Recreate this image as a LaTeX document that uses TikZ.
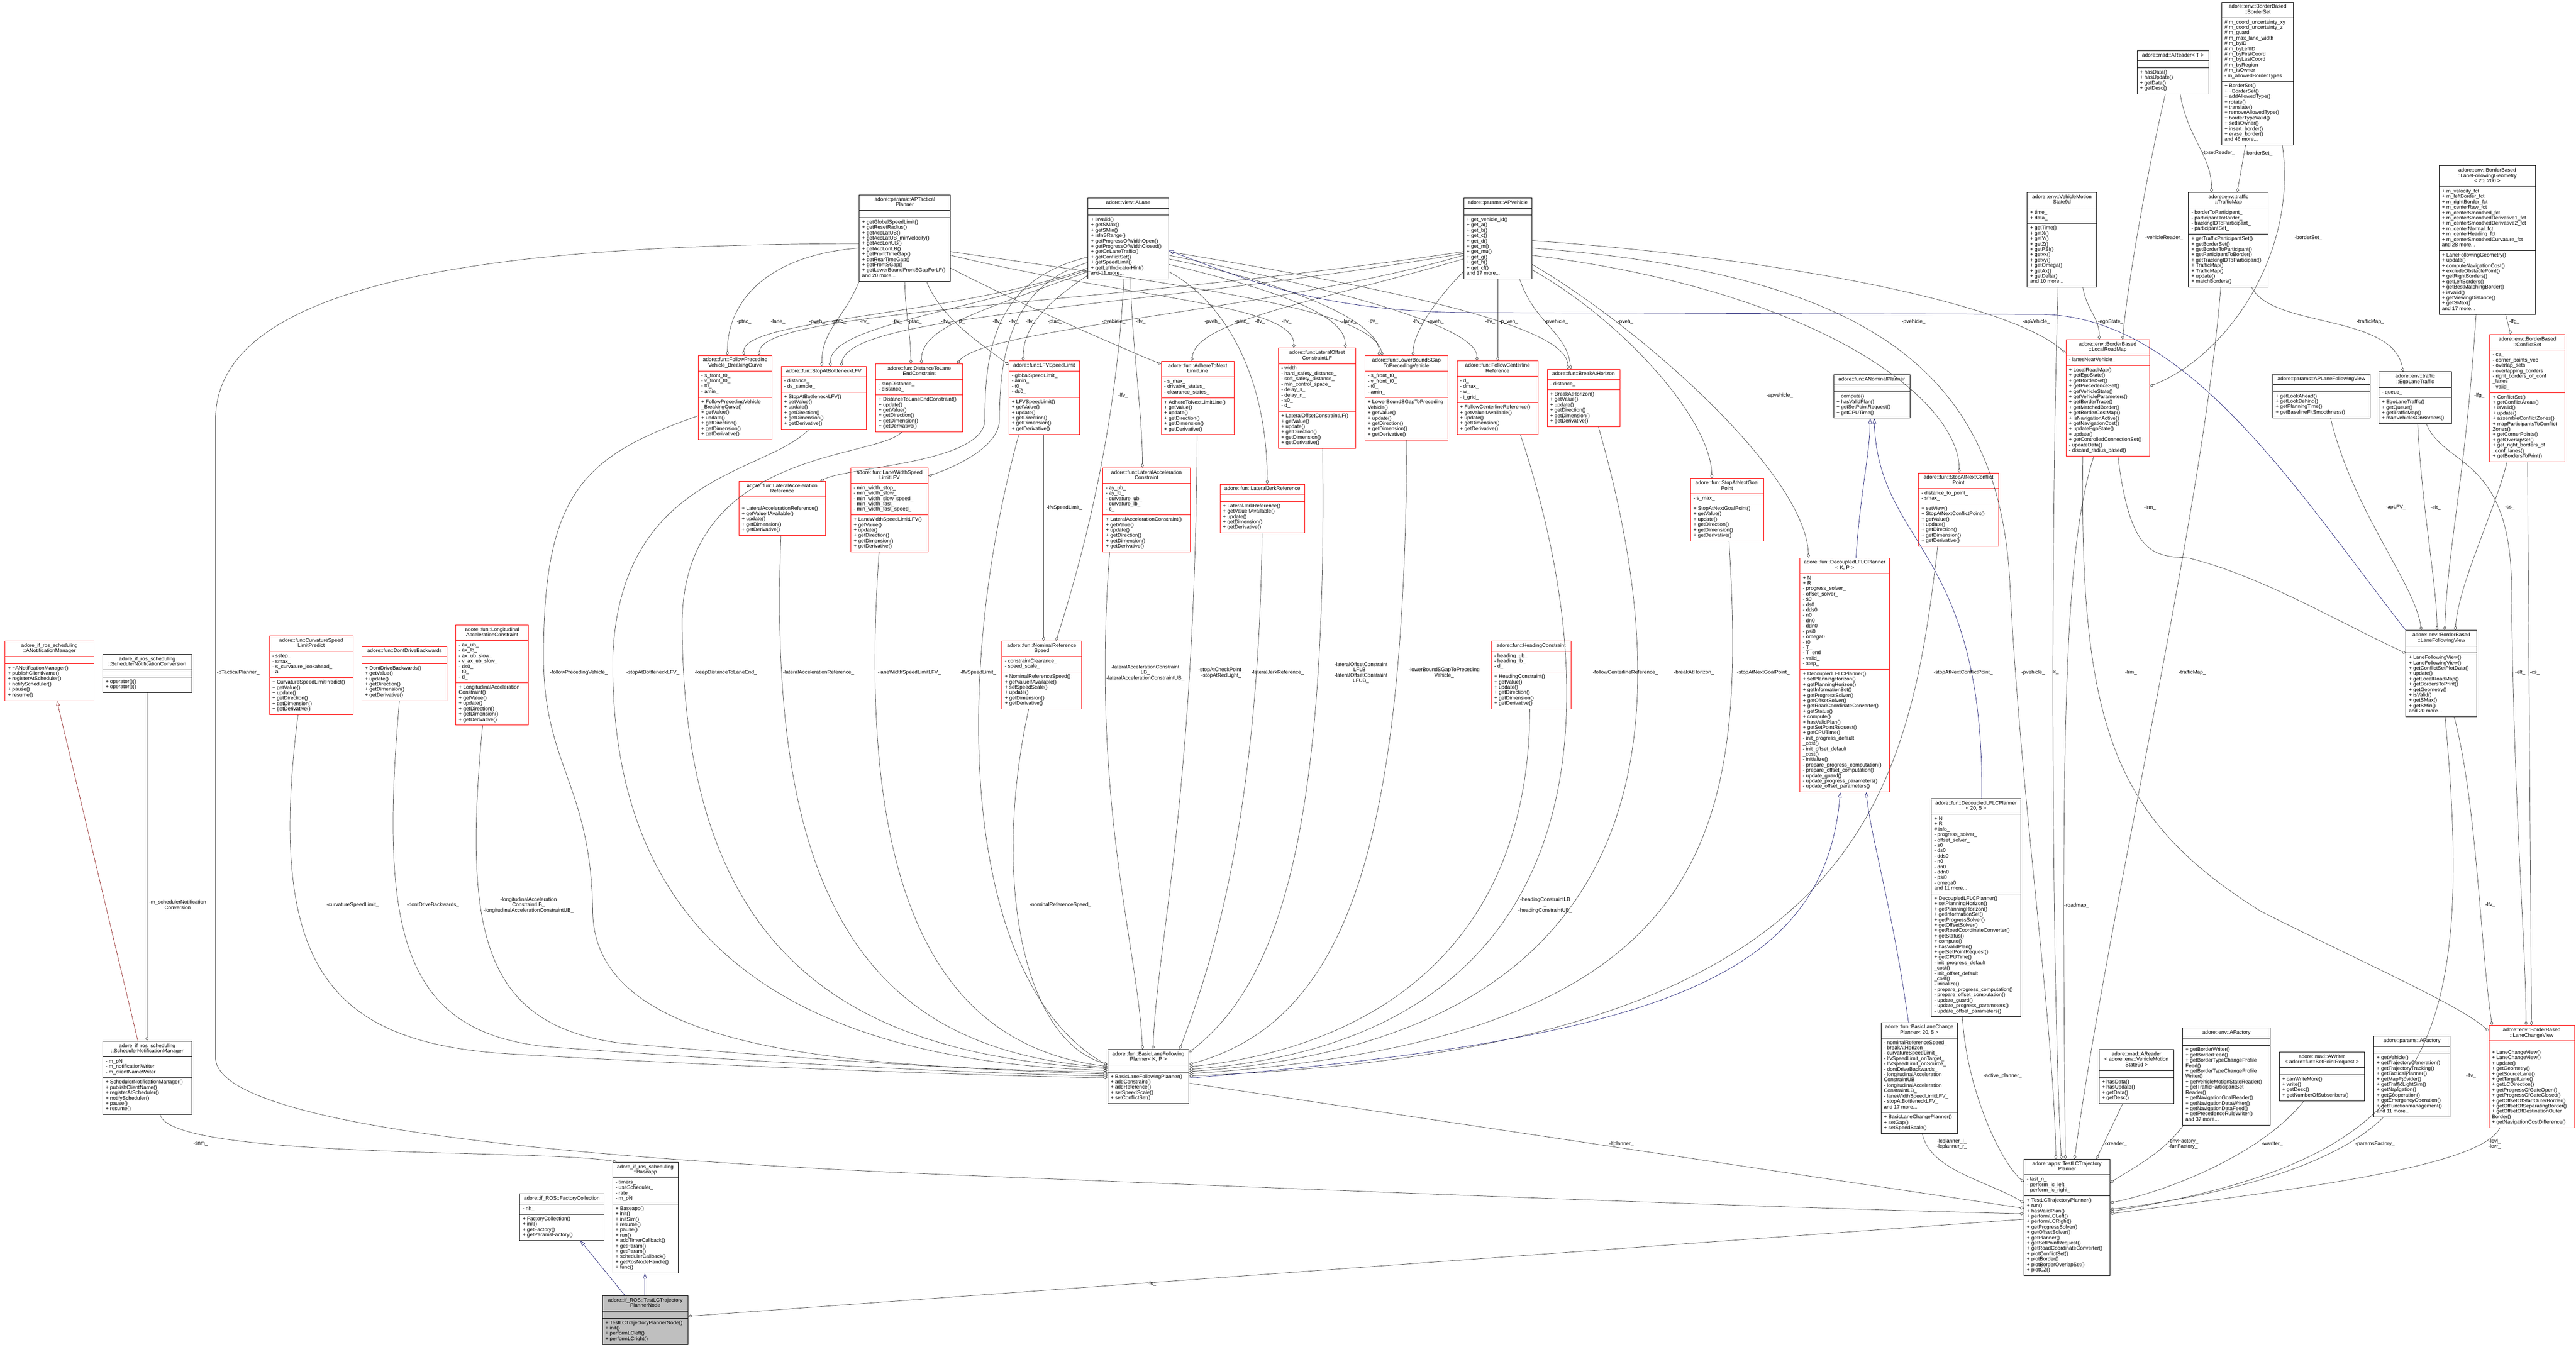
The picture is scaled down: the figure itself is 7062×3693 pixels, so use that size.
\documentclass[tikz,border=0pt]{standalone}
\usepackage{fontspec}
\newfontfamily\dxfont{Liberation Sans}
\usetikzlibrary{shapes.multipart,arrows.meta}
\definecolor{edgegray}{HTML}{404040}
\definecolor{inhblue}{HTML}{191970}
\definecolor{privred}{HTML}{8B1A1A}
\definecolor{nodegray}{HTML}{BFBFBF}
\newcommand{\ttl}[1]{\begin{tabular}{@{}c@{}}#1\end{tabular}}
\newcommand{\lst}[1]{\begin{tabular}{@{}l@{}}#1\end{tabular}}
\newcommand{\emp}{\rule{0pt}{3pt}}
\tikzset{
  cls/.style={rectangle split, rectangle split parts=3, draw=black, line width=0.6pt, fill=white,
    anchor=north west, inner xsep=4pt, inner ysep=3pt,
    font=\dxfont\fontsize{7.1}{7.35}\selectfont,
    rectangle split part align={center,left,left}},
  redcls/.style={cls, draw=red},
  boxw/.style={minimum width=#1*0.5pt},
  uses/.style={draw=edgegray, line width=0.5pt, -{Diamond[open,length=6pt,width=4pt]}},
  inherit/.style={draw=inhblue, line width=0.5pt, -{Triangle[open,length=7pt,width=5pt]}},
  privinherit/.style={draw=privred, line width=0.5pt, -{Triangle[open,length=7pt,width=5pt]}},
  lbl/.style={font=\dxfont\fontsize{7.1}{7.35}\selectfont, inner sep=0pt, align=center},
}
\begin{document}
\begin{tikzpicture}[x=0.5pt,y=-0.5pt]
\path[use as bounding box, fill=white] (0,0) rectangle (7062,3693);

% parameter and view classes at the top
\node[cls, boxw=250] (aptac) at (2355,534) {\ttl{adore::params::APTactical\\Planner}\nodepart{two}\emp\nodepart{three}\lst{+ getGlobalSpeedLimit()\\+ getResetRadius()\\+ getAccLatUB()\\+ getAccLatUB\_minVelocity()\\+ getAccLonUB()\\+ getAccLonLB()\\+ getFrontTimeGap()\\+ getRearTimeGap()\\+ getFrontSGap()\\+ getLowerBoundFrontSGapForLF()\\and 20 more...}};
\node[cls, boxw=221] (alane) at (2982,542) {\ttl{adore::view::ALane}\nodepart{two}\emp\nodepart{three}\lst{+ isValid()\\+ getSMax()\\+ getSMin()\\+ isInSRange()\\+ getProgressOfWidthOpen()\\+ getProgressOfWidthClosed()\\+ getOnLaneTraffic()\\+ getConflictSet()\\+ getSpeedLimit()\\+ getLeftIndicatorHint()\\and 11 more...}};
\node[cls, boxw=187] (apv) at (4012,542) {\ttl{adore::params::APVehicle}\nodepart{two}\emp\nodepart{three}\lst{+ get\_vehicle\_id()\\+ get\_a()\\+ get\_b()\\+ get\_c()\\+ get\_d()\\+ get\_m()\\+ get\_mu()\\+ get\_g()\\+ get\_h()\\+ get\_cf()\\and 17 more...}};
\node[cls, boxw=197] (areader) at (5858,138) {\ttl{adore::mad::AReader< T >}\nodepart{two}\emp\nodepart{three}\lst{+ hasData()\\+ hasUpdate()\\+ getData()\\+ getDesc()}};
\node[cls, boxw=197] (bs) at (6090,5) {\ttl{adore::env::BorderBased\\::BorderSet}\nodepart{two}\lst{\# m\_coord\_uncertainty\_xy\\\# m\_coord\_uncertainty\_z\\\# m\_guard\\\# m\_max\_lane\_width\\\# m\_byID\\\# m\_byLeftID\\\# m\_byFirstCoord\\\# m\_byLastCoord\\\# m\_byRegion\\\# m\_isOwner\\- m\_allowedBorderTypes}\nodepart{three}\lst{+ BorderSet()\\+ \textasciitilde BorderSet()\\+ addAllowedType()\\+ rotate()\\+ translate()\\+ removeAllowedType()\\+ borderTypeValid()\\+ setIsOwner()\\+ insert\_border()\\+ erase\_border()\\and 46 more...}};
\node[cls, boxw=190] (vms) at (5557,527) {\ttl{adore::env::VehicleMotion\\State9d}\nodepart{two}\lst{+ time\_\\+ data\_}\nodepart{three}\lst{+ getTime()\\+ getX()\\+ getY()\\+ getZ()\\+ getPSI()\\+ getvx()\\+ getvy()\\+ getOmega()\\+ getAx()\\+ getDelta()\\and 10 more...}};
\node[cls, boxw=219] (tm) at (5999,527) {\ttl{adore::env::traffic\\::TrafficMap}\nodepart{two}\lst{- borderToParticipant\_\\- participantToBorder\_\\- trackingIDToParticipant\_\\- participantSet\_}\nodepart{three}\lst{+ getTrafficParticipantSet()\\+ getBorderSet()\\+ getBorderToParticipant()\\+ getParticipantToBorder()\\+ getTrackingIDToParticipant()\\+ TrafficMap()\\+ TrafficMap()\\+ update()\\+ matchBorders()}};
\node[cls, boxw=264] (lfg) at (6686,454) {\ttl{adore::env::BorderBased\\::LaneFollowingGeometry\\< 20, 200 >}\nodepart{two}\lst{+ m\_velocity\_fct\\+ m\_leftBorder\_fct\\+ m\_rightBorder\_fct\\+ m\_centerRaw\_fct\\+ m\_centerSmoothed\_fct\\+ m\_centerSmoothedDerivative1\_fct\\+ m\_centerSmoothedDerivative2\_fct\\+ m\_centerNormal\_fct\\+ m\_centerHeading\_fct\\+ m\_centerSmoothedCurvature\_fct\\and 28 more...}\nodepart{three}\lst{+ LaneFollowingGeometry()\\+ update()\\+ computeNavigationCost()\\+ excludeObstaclePoint()\\+ getRightBorders()\\+ getLeftBorders()\\+ getBestMatchingBorder()\\+ isValid()\\+ getViewingDistance()\\+ getSMax()\\and 17 more...}};
\node[redcls, boxw=229] (lrm) at (5663,931) {\ttl{adore::env::BorderBased\\::LocalRoadMap}\nodepart{two}\lst{- lanesNearVehicle\_}\nodepart{three}\lst{+ LocalRoadMap()\\+ getEgoState()\\+ getBorderSet()\\+ getPrecedenceSet()\\+ getVehicleState()\\+ getVehicleParameters()\\+ getBorderTrace()\\+ getMatchedBorder()\\+ getBorderCostMap()\\+ isNavigationActive()\\+ getNavigationCost()\\+ updateEgoState()\\+ update()\\+ getControlledConnectionSet()\\- updateData()\\- discard\_radius\_based()}};
\node[cls, boxw=267] (aplfv) at (6230,1026) {\ttl{adore::params::APLaneFollowingView}\nodepart{two}\emp\nodepart{three}\lst{+ getLookAhead()\\+ getLookBehind()\\+ getPlanningTime()\\+ getBaselineFitSmoothness()}};
\node[cls, boxw=199] (elt) at (6521,1019) {\ttl{adore::env::traffic\\::EgoLaneTraffic}\nodepart{two}\lst{- queue\_}\nodepart{three}\lst{+ EgoLaneTraffic()\\+ getQueue()\\+ getTrafficMap()\\+ mapVehiclesOnBorders()}};
\node[redcls, boxw=206] (cs) at (6825,917) {\ttl{adore::env::BorderBased\\::ConflictSet}\nodepart{two}\lst{- ca\_\\- corner\_points\_vec\\- overlap\_sets\\- overlapping\_borders\\- right\_borders\_of\_conf\\\_lanes\\- valid\_}\nodepart{three}\lst{+ ConflictSet()\\+ getConflictAreas()\\+ isValid()\\+ update()\\+ assembleConflictZones()\\+ mapParticipantsToConflict\\Zones()\\+ getCornerPoints()\\+ getOverlapSet()\\+ get\_right\_borders\_of\\\_conf\_lanes()\\+ getBordersToPrint()}};
\node[cls, boxw=195] (lfv) at (6595,1728) {\ttl{adore::env::BorderBased\\::LaneFollowingView}\nodepart{two}\emp\nodepart{three}\lst{+ LaneFollowingView()\\+ LaneFollowingView()\\+ getConflictSetPlotData()\\+ update()\\+ getLocalRoadMap()\\+ getBordersToPrint()\\+ getGeometry()\\+ isValid()\\+ getSMax()\\+ getSMin()\\and 20 more...}};

% constraint and reference terms
\node[redcls, boxw=202] (fpv) at (1914,974) {\ttl{adore::fun::FollowPreceding\\Vehicle\_BreakingCurve}\nodepart{two}\lst{- s\_front\_t0\_\\- v\_front\_t0\_\\- t0\_\\- amin\_}\nodepart{three}\lst{+ FollowPrecedingVehicle\\\_BreakingCurve()\\+ getValue()\\+ update()\\+ getDirection()\\+ getDimension()\\+ getDerivative()}};
\node[redcls, boxw=233] (sab) at (2141,1004) {\ttl{adore::fun::StopAtBottleneckLFV}\nodepart{two}\lst{- distance\_\\- ds\_sample\_}\nodepart{three}\lst{+ StopAtBottleneckLFV()\\+ getValue()\\+ update()\\+ getDirection()\\+ getDimension()\\+ getDerivative()}};
\node[redcls, boxw=239] (dle) at (2400,997) {\ttl{adore::fun::DistanceToLane\\EndConstraint}\nodepart{two}\lst{- stopDistance\_\\- distance\_}\nodepart{three}\lst{+ DistanceToLaneEndConstraint()\\+ update()\\+ getValue()\\+ getDirection()\\+ getDimension()\\+ getDerivative()}};
\node[redcls, boxw=194] (lfvsl) at (2765,989) {\ttl{adore::fun::LFVSpeedLimit}\nodepart{two}\lst{- globalSpeedLimit\_\\- amin\_\\- t0\_\\- ds0\_}\nodepart{three}\lst{+ LFVSpeedLimit()\\+ getValue()\\+ update()\\+ getDirection()\\+ getDimension()\\+ getDerivative()}};
\node[redcls, boxw=199] (anl) at (3183,990) {\ttl{adore::fun::AdhereToNext\\LimitLine}\nodepart{two}\lst{- s\_max\_\\- drivable\_states\_\\- clearance\_states\_}\nodepart{three}\lst{+ AdhereToNextLimitLine()\\+ getValue()\\+ update()\\+ getDirection()\\+ getDimension()\\+ getDerivative()}};
\node[redcls, boxw=212] (loc) at (3504,954) {\ttl{adore::fun::LateralOffset\\ConstraintLF}\nodepart{two}\lst{- width\_\\- hard\_safety\_distance\_\\- soft\_safety\_distance\_\\- min\_control\_space\_\\- delay\_s\_\\- delay\_n\_\\- s0\_\\- d\_}\nodepart{three}\lst{+ LateralOffsetConstraintLF()\\+ getValue()\\+ update()\\+ getDirection()\\+ getDimension()\\+ getDerivative()}};
\node[redcls, boxw=228] (lbs) at (3741,975) {\ttl{adore::fun::LowerBoundSGap\\ToPrecedingVehicle}\nodepart{two}\lst{- s\_front\_t0\_\\- v\_front\_t0\_\\- t0\_\\- amin\_}\nodepart{three}\lst{+ LowerBoundSGapToPreceding\\Vehicle()\\+ getValue()\\+ update()\\+ getDirection()\\+ getDimension()\\+ getDerivative()}};
\node[redcls, boxw=222] (fcr) at (3994,989) {\ttl{adore::fun::FollowCenterline\\Reference}\nodepart{two}\lst{- d\_\\- dmax\_\\- w\_\\- i\_grid\_}\nodepart{three}\lst{+ FollowCenterlineReference()\\+ getValueIfAvailable()\\+ update()\\+ getDimension()\\+ getDerivative()}};
\node[redcls, boxw=199] (bah) at (4241,1012) {\ttl{adore::fun::BreakAtHorizon}\nodepart{two}\lst{- distance\_}\nodepart{three}\lst{+ BreakAtHorizon()\\+ getValue()\\+ update()\\+ getDirection()\\+ getDimension()\\+ getDerivative()}};
\node[cls, boxw=209] (anp) at (5026,1027) {\ttl{adore::fun::ANominalPlanner}\nodepart{two}\emp\nodepart{three}\lst{+ compute()\\+ hasValidPlan()\\+ getSetPointRequest()\\+ getCPUTime()}};
\node[redcls, boxw=200] (sng) at (4634,1311) {\ttl{adore::fun::StopAtNextGoal\\Point}\nodepart{two}\lst{- s\_max\_}\nodepart{three}\lst{+ StopAtNextGoalPoint()\\+ getValue()\\+ update()\\+ getDirection()\\+ getDimension()\\+ getDerivative()}};
\node[redcls, boxw=219] (sncp) at (5259,1296) {\ttl{adore::fun::StopAtNextConflict\\Point}\nodepart{two}\lst{- distance\_to\_point\_\\- smax\_}\nodepart{three}\lst{+ setView()\\+ StopAtNextConflictPoint()\\+ getValue()\\+ update()\\+ getDirection()\\+ getDimension()\\+ getDerivative()}};
\node[redcls, boxw=237] (lar) at (2025,1319) {\ttl{adore::fun::LateralAcceleration\\Reference}\nodepart{two}\emp\nodepart{three}\lst{+ LateralAccelerationReference()\\+ getValueIfAvailable()\\+ update()\\+ getDimension()\\+ getDerivative()}};
\node[redcls, boxw=212] (lws) at (2332,1282) {\ttl{adore::fun::LaneWidthSpeed\\LimitLFV}\nodepart{two}\lst{- min\_width\_stop\_\\- min\_width\_slow\_\\- min\_width\_slow\_speed\_\\- min\_width\_fast\_\\- min\_width\_fast\_speed\_}\nodepart{three}\lst{+ LaneWidthSpeedLimitLFV()\\+ getValue()\\+ update()\\+ getDirection()\\+ getDimension()\\+ getDerivative()}};
\node[redcls, boxw=239] (lacc) at (3023,1282) {\ttl{adore::fun::LateralAcceleration\\Constraint}\nodepart{two}\lst{- ay\_ub\_\\- ay\_lb\_\\- curvature\_ub\_\\- curvature\_lb\_\\- c\_}\nodepart{three}\lst{+ LateralAccelerationConstraint()\\+ getValue()\\+ update()\\+ getDirection()\\+ getDimension()\\+ getDerivative()}};
\node[redcls, boxw=232] (ljr) at (3344,1327) {\ttl{adore::fun::LateralJerkReference}\nodepart{two}\emp\nodepart{three}\lst{+ LateralJerkReference()\\+ getValueIfAvailable()\\+ update()\\+ getDimension()\\+ getDerivative()}};
\node[redcls, boxw=218] (nrs) at (2746,1757) {\ttl{adore::fun::NominalReference\\Speed}\nodepart{two}\lst{- constraintClearance\_\\- speed\_scale\_}\nodepart{three}\lst{+ NominalReferenceSpeed()\\+ getValueIfAvailable()\\+ setSpeedScale()\\+ update()\\+ getDimension()\\+ getDerivative()}};
\node[redcls, boxw=218] (hc) at (4088,1757) {\ttl{adore::fun::HeadingConstraint}\nodepart{two}\lst{- heading\_ub\_\\- heading\_lb\_\\- d\_}\nodepart{three}\lst{+ HeadingConstraint()\\+ getValue()\\+ update()\\+ getDirection()\\+ getDimension()\\+ getDerivative()}};
\node[redcls, boxw=229] (cslp) at (738,1743) {\ttl{adore::fun::CurvatureSpeed\\LimitPredict}\nodepart{two}\lst{- sstep\_\\- smax\_\\- s\_curvature\_lookahead\_\\- a}\nodepart{three}\lst{+ CurvatureSpeedLimitPredict()\\+ getValue()\\+ update()\\+ getDirection()\\+ getDimension()\\+ getDerivative()}};
\node[redcls, boxw=233] (ddb) at (992,1772) {\ttl{adore::fun::DontDriveBackwards}\nodepart{two}\emp\nodepart{three}\lst{+ DontDriveBackwards()\\+ getValue()\\+ update()\\+ getDirection()\\+ getDimension()\\+ getDerivative()}};
\node[redcls, boxw=199] (lac) at (1249,1713) {\ttl{adore::fun::Longitudinal\\AccelerationConstraint}\nodepart{two}\lst{- ax\_ub\_\\- ax\_lb\_\\- ax\_ub\_slow\_\\- v\_ax\_ub\_slow\_\\- ds0\_\\- t0\_\\- d\_}\nodepart{three}\lst{+ LongitudinalAcceleration\\Constraint()\\+ getValue()\\+ update()\\+ getDirection()\\+ getDimension()\\+ getDerivative()}};

% planners
\node[redcls, boxw=245] (dlKP) at (4934,1529) {\ttl{adore::fun::DecoupledLFLCPlanner\\< K, P >}\nodepart{two}\lst{+ N\\+ R\\- progress\_solver\_\\- offset\_solver\_\\- s0\\- ds0\\- dds0\\- n0\\- dn0\\- ddn0\\- psi0\\- omega0\\- t0\\- T\_\\- T\_end\_\\- valid\_\\- step\_}\nodepart{three}\lst{+ DecoupledLFLCPlanner()\\+ setPlanningHorizon()\\+ getPlanningHorizon()\\+ getInformationSet()\\+ getProgressSolver()\\+ getOffsetSolver()\\+ getRoadCoordinateConverter()\\+ getStatus()\\+ compute()\\+ hasValidPlan()\\+ getSetPointRequest()\\+ getCPUTime()\\- init\_progress\_default\\\_cost()\\- init\_offset\_default\\\_cost()\\- initialize()\\- prepare\_progress\_computation()\\- prepare\_offset\_computation()\\- update\_guard()\\- update\_progress\_parameters()\\- update\_offset\_parameters()}};
\node[cls, boxw=245] (dl205) at (5294,2189) {\ttl{adore::fun::DecoupledLFLCPlanner\\< 20, 5 >}\nodepart{two}\lst{+ N\\+ R\\\# info\_\\- progress\_solver\_\\- offset\_solver\_\\- s0\\- ds0\\- dds0\\- n0\\- dn0\\- ddn0\\- psi0\\- omega0\\and 11 more...}\nodepart{three}\lst{+ DecoupledLFLCPlanner()\\+ setPlanningHorizon()\\+ getPlanningHorizon()\\+ getInformationSet()\\+ getProgressSolver()\\+ getOffsetSolver()\\+ getRoadCoordinateConverter()\\+ getStatus()\\+ compute()\\+ hasValidPlan()\\+ getSetPointRequest()\\+ getCPUTime()\\- init\_progress\_default\\\_cost()\\- init\_offset\_default\\\_cost()\\- initialize()\\- prepare\_progress\_computation()\\- prepare\_offset\_computation()\\- update\_guard()\\- update\_progress\_parameters()\\- update\_offset\_parameters()}};
\node[cls, boxw=223] (blfp) at (3036,2877) {\ttl{adore::fun::BasicLaneFollowing\\Planner< K, P >}\nodepart{two}\emp\nodepart{three}\lst{+ BasicLaneFollowingPlanner()\\+ addConstraint()\\+ addReference()\\+ setSpeedScale()\\+ setConflictSet()}};
\node[cls, boxw=210] (blcp) at (5156,2803) {\ttl{adore::fun::BasicLaneChange\\Planner< 20, 5 >}\nodepart{two}\lst{- nominalReferenceSpeed\_\\- breakAtHorizon\_\\- curvatureSpeedLimit\_\\- lfvSpeedLimit\_onTarget\_\\- lfvSpeedLimit\_onSource\_\\- dontDriveBackwards\_\\- longitudinalAcceleration\\ConstraintUB\_\\- longitudinalAcceleration\\ConstraintLB\_\\- laneWidthSpeedLimitLFV\_\\- stopAtBottleneckLFV\_\\and 17 more...}\nodepart{three}\lst{+ BasicLaneChangePlanner()\\+ setGap()\\+ setSpeedScale()}};
\node[cls, boxw=236] (tlc) at (5548,3178) {\ttl{adore::apps::TestLCTrajectory\\Planner}\nodepart{two}\lst{- last\_n\_\\- perform\_lc\_left\_\\- perform\_lc\_right\_}\nodepart{three}\lst{+ TestLCTrajectoryPlanner()\\+ run()\\+ hasValidPlan()\\+ performLCLeft()\\+ performLCRight()\\+ getProgressSolver()\\+ getOffsetSolver()\\+ getPlanner()\\+ getSetPointRequest()\\+ getRoadCoordinateConverter()\\+ plotConflictSet()\\+ plotBorder()\\+ plotBorderOverlapSet()\\+ plotCZ()}};
\node[cls, boxw=205] (xreader) at (5754,2877) {\ttl{adore::mad::AReader\\< adore::env::VehicleMotion\\State9d >}\nodepart{two}\emp\nodepart{three}\lst{+ hasData()\\+ hasUpdate()\\+ getData()\\+ getDesc()}};
\node[cls, boxw=240] (envf) at (5983,2818) {\ttl{adore::env::AFactory}\nodepart{two}\emp\nodepart{three}\lst{+ getBorderWriter()\\+ getBorderFeed()\\+ getBorderTypeChangeProfile\\Feed()\\+ getBorderTypeChangeProfile\\Writer()\\+ getVehicleMotionStateReader()\\+ getTrafficParticipantSet\\Reader()\\+ getNavigationGoalReader()\\+ getNavigationDataWriter()\\+ getNavigationDataFeed()\\+ getPrecedenceRuleWriter()\\and 37 more...}};
\node[cls, boxw=233] (wwriter) at (6248,2884) {\ttl{adore::mad::AWriter\\< adore::fun::SetPointRequest >}\nodepart{two}\emp\nodepart{three}\lst{+ canWriteMore()\\+ write()\\+ getDesc()\\+ getNumberOfSubscribers()}};
\node[cls, boxw=209] (parf) at (6507,2840) {\ttl{adore::params::AFactory}\nodepart{two}\emp\nodepart{three}\lst{+ getVehicle()\\+ getTrajectoryGeneration()\\+ getTrajectoryTracking()\\+ getTacticalPlanner()\\+ getMapProvider()\\+ getTrafficLightSim()\\+ getNavigation()\\+ getCooperation()\\+ getEmergencyOperation()\\+ getFunctionmanagement()\\and 11 more...}};
\node[redcls, boxw=234] (lcv) at (6823,2811) {\ttl{adore::env::BorderBased\\::LaneChangeView}\nodepart{two}\emp\nodepart{three}\lst{+ LaneChangeView()\\+ LaneChangeView()\\+ update()\\+ getGeometry()\\+ getSourceLane()\\+ getTargetLane()\\+ getLCDirection()\\+ getProgressOfGateOpen()\\+ getProgressOfGateClosed()\\+ getOffsetOfStartOuterBorder()\\+ getOffsetOfSeparatingBorder()\\+ getOffsetOfDestinationOuter\\Border()\\+ getNavigationCostDifference()}};

% ROS side
\node[redcls, boxw=244] (anm) at (13,1757) {\ttl{adore\_if\_ros\_scheduling\\::ANotificationManager}\nodepart{two}\emp\nodepart{three}\lst{+ \textasciitilde ANotificationManager()\\+ publishClientName()\\+ registerAtScheduler()\\+ notifyScheduler()\\+ pause()\\+ resume()}};
\node[cls, boxw=244] (snc) at (281,1794) {\ttl{adore\_if\_ros\_scheduling\\::SchedulerNotificationConversion}\nodepart{two}\emp\nodepart{three}\lst{+ operator()()\\+ operator()()}};
\node[cls, boxw=244] (snm) at (281,2854) {\ttl{adore\_if\_ros\_scheduling\\::SchedulerNotificationManager}\nodepart{two}\lst{- m\_pN\\- m\_notificationWriter\\- m\_clientNameWriter}\nodepart{three}\lst{+ SchedulerNotificationManager()\\+ publishClientName()\\+ registerAtScheduler()\\+ notifyScheduler()\\+ pause()\\+ resume()}};
\node[cls, boxw=179] (baseapp) at (1679,3186) {\ttl{adore\_if\_ros\_scheduling\\::Baseapp}\nodepart{two}\lst{- timers\_\\- useScheduler\_\\- rate\_\\- m\_pN}\nodepart{three}\lst{+ Baseapp()\\+ init()\\+ initSim()\\+ resume()\\+ pause()\\+ run()\\+ addTimerCallback()\\+ getParam()\\+ getParam()\\+ schedulerCallback()\\+ getRosNodeHandle()\\+ func()}};
\node[cls, boxw=231] (fc) at (1424,3273) {\ttl{adore::if\_ROS::FactoryCollection}\nodepart{two}\lst{- nh\_}\nodepart{three}\lst{+ FactoryCollection()\\+ init()\\+ getFactory()\\+ getParamsFactory()}};
\node[cls, boxw=235, fill=nodegray] (rosnode) at (1651,3552) {\ttl{adore::if\_ROS::TestLCTrajectory\\PlannerNode}\nodepart{two}\emp\nodepart{three}\lst{+ TestLCTrajectoryPlannerNode()\\+ init()\\+ performLCleft()\\+ performLCright()}};

% edges from the tactical planner parameters
\draw[uses] (aptac.west |- 0,680) .. controls +(-250,20) and +(0,-150) .. (fpv.north -| 1994,0);
\draw[uses] (aptac.south west) .. controls +(-40,100) and +(0,-100) .. (sab.north -| 2253,0);
\draw[uses] (aptac.south) .. controls +(0,80) and +(0,-80) .. (dle.north -| 2497,0);
\draw[uses] (aptac.south -| 2540,0) .. controls +(40,100) and +(-80,-60) .. (lfvsl.west |- 0,1000);
\draw[uses] (aptac.east |- 0,735) .. controls +(150,80) and +(-100,-40) .. (anl.west |- 0,998);
\draw[uses] (aptac.east |- 0,700) .. controls +(500,120) and +(0,-120) .. (loc.north -| 3547,0);
\draw[uses] (aptac.east |- 0,690) .. controls (3300,790) and (3760,850) .. (lbs.north -| 3790,0);
\draw[uses] (aptac.west |- 0,668) .. controls (1400,670) and (591,760) .. (591,1150) -- (591,2900) .. controls (591,3080) and (1500,3175) .. (2600,3221) .. controls (3700,3266) and (4800,3310) .. (tlc.west |- 0,3328);

% edges from the lane view
\draw[uses] (alane.west |- 0,735) .. controls +(-350,130) and +(0,-100) .. (fpv.north -| 2039,0);
\draw[uses] (alane.west |- 0,740) .. controls +(-350,120) and +(0,-110) .. (sab.north -| 2276,0);
\draw[uses] (alane.west |- 0,745) .. controls +(-300,110) and +(0,-100) .. (dle.north -| 2526,0);
\draw[uses] (alane.west |- 0,755) .. controls +(-120,80) and +(0,-90) .. (lfvsl.north -| 2805,0);
\draw[uses] (alane.west |- 0,705) .. controls +(-250,60) and +(0,-200) .. (2700,1150) .. controls +(0,120) and +(80,-40) .. (lar.north -| 2249,0);
\draw[uses] (alane.west |- 0,720) .. controls +(-200,60) and +(0,-200) .. (2740,1150) .. controls +(0,80) and +(60,-20) .. (lws.east |- 0,1305);
\draw[uses] (alane.south -| 3100,0) .. controls +(0,150) and +(0,-150) .. (lacc.north -| 3132,0);
\draw[uses] (alane.south -| 3081,0) .. controls +(-20,400) and +(80,-250) .. (nrs.north -| 2895,0);
\draw[uses] (alane.east |- 0,745) .. controls +(150,80) and +(0,-300) .. (ljr.north -| 3474,0);
\draw[uses] (alane.east |- 0,725) .. controls +(250,60) and +(0,-100) .. (loc.north -| 3688,0);
\draw[uses] (alane.east |- 0,710) .. controls +(300,60) and +(0,-100) .. (lbs.north -| 3781,0);
\draw[uses] (alane.east |- 0,700) .. controls +(400,80) and +(0,-100) .. (fcr.north -| 4049,0);
\draw[uses] (alane.east |- 0,690) .. controls +(600,100) and +(0,-120) .. (bah.north -| 4298,0);

% edges from the vehicle parameters
\draw[uses] (apv.west |- 0,690) .. controls (3000,840) and (2100,850) .. (fpv.north -| 2080,0);
\draw[uses] (apv.west |- 0,695) .. controls (3100,850) and (2330,860) .. (sab.north -| 2306,0);
\draw[uses] (apv.west |- 0,700) .. controls (3500,850) and (2700,900) .. (dle.north -| 2624,0);
\draw[uses] (apv.west |- 0,710) .. controls (3600,830) and (3280,880) .. (anl.north -| 3267,0);
\draw[uses] (apv.west |- 0,745) .. controls +(-80,80) and +(0,-60) .. (lbs.north -| 3874,0);
\draw[uses] (apv.south -| 4106,0) -- (fcr.north -| 4106,0);
\draw[uses] (apv.south -| 4166,0) .. controls +(40,120) and +(-10,-100) .. (bah.north -| 4306,0);
\draw[uses] (apv.east |- 0,740) .. controls (4450,880) and (4690,1150) .. (sng.north -| 4693,0);
\draw[uses] (apv.east |- 0,725) .. controls (4500,900) and (4950,1300) .. (dlKP.north -| 4958,0);
\draw[uses] (apv.east |- 0,700) .. controls (5000,800) and (5371,1100) .. (sncp.north -| 5371,0);
\draw[uses] (apv.east |- 0,660) .. controls (4800,700) and (5500,820) .. (lrm.west |- 0,969);
\draw[uses] (apv.east |- 0,680) .. controls (5100,750) and (5480,1000) .. (5510,1600) .. controls (5540,2200) and (5630,2800) .. (tlc.north -| 5636,0);

% terms into the lane following planner
\draw[uses] (cslp.south -| 817,0) .. controls (730,2650) and (900,2860) .. (1400,2890) .. controls (2000,2925) and (2700,2950) .. (blfp.west |- 0,2955);
\draw[uses] (ddb.south -| 1095,0) .. controls (1040,2550) and (1100,2830) .. (1500,2870) .. controls (2100,2915) and (2700,2945) .. (blfp.west |- 0,2950);
\draw[uses] (lac.south -| 1323,0) .. controls (1270,2550) and (1320,2810) .. (1700,2860) .. controls (2200,2905) and (2700,2935) .. (blfp.west |- 0,2945);
\draw[uses] (fpv.west |- 0,1140) .. controls (1600,1250) and (1490,1350) .. (1490,1800) .. controls (1490,2100) and (1620,2150) .. (1625,2500) .. controls (1630,2880) and (2300,2925) .. (blfp.west |- 0,2940);
\draw[uses] (sab.south -| 2218,0) .. controls (2100,1300) and (1700,1300) .. (1680,1800) .. controls (1670,2600) and (2200,2910) .. (blfp.west |- 0,2935);
\draw[uses] (dle.south -| 2472,0) .. controls (2400,1260) and (1880,1230) .. (1870,1700) .. controls (1870,2600) and (2300,2890) .. (blfp.west |- 0,2930);
\draw[uses] (lar.south -| 2141,0) .. controls (2100,2500) and (2400,2880) .. (blfp.west |- 0,2927);
\draw[uses] (lws.south -| 2410,0) .. controls (2340,2500) and (2600,2870) .. (blfp.west |- 0,2924);
\draw[uses] (lfvsl.south -| 2793,0) .. controls (2600,1900) and (2650,2700) .. (blfp.west |- 0,2921);
\draw[uses] (nrs.south -| 2820,0) .. controls (2720,2400) and (2800,2850) .. (blfp.west |- 0,2918);
\draw[uses] (lfvsl.south -| 2861,0) -- (nrs.north -| 2861,0);
\draw[uses] (lacc.south -| 3042,0) .. controls (2990,2200) and (3120,2600) .. (blfp.north -| 3132,0);
\draw[uses] (anl.south -| 3282,0) .. controls (3275,2200) and (3170,2600) .. (blfp.north -| 3161,0);
\draw[uses] (ljr.south -| 3460,0) .. controls (3450,2300) and (3300,2700) .. (blfp.north -| 3234,0);
\draw[uses] (loc.south -| 3626,0) .. controls (3640,2300) and (3500,2700) .. (blfp.east |- 0,2885);
\draw[uses] (lbs.south -| 3857,0) .. controls (3850,2300) and (3700,2800) .. (blfp.east |- 0,2918);
\draw[uses] (hc.south -| 4194,0) .. controls (4190,2650) and (3700,2880) .. (blfp.east |- 0,2925);
\draw[uses] (fcr.south -| 4168,0) .. controls (4420,1950) and (4380,2850) .. (blfp.east |- 0,2932);
\draw[uses] (bah.south -| 4382,0) .. controls (4620,2000) and (4550,2850) .. (blfp.east |- 0,2938);
\draw[uses] (sng.south -| 4740,0) .. controls (4790,2300) and (4700,2850) .. (blfp.east |- 0,2944);
\draw[uses] (sncp.south -| 5312,0) .. controls (5230,2200) and (5100,2880) .. (blfp.east |- 0,2950);

% inheritance
\draw[inherit] (blfp.east |- 0,2956) .. controls (4500,2850) and (5000,2700) .. (dlKP.south -| 5045,0);
\draw[inherit] (blcp.north -| 5232,0) .. controls (5190,2500) and (5130,2300) .. (dlKP.south -| 5116,0);
\draw[inherit] (dlKP.north -| 5088,0) .. controls (5100,1350) and (5125,1250) .. (anp.south -| 5127,0);
\draw[inherit] (dl205.north -| 5433,0) .. controls (5440,1500) and (5150,1500) .. (anp.south -| 5138,0);
\draw[inherit] (lfv.north west) .. controls (6300,1350) and (6000,870) .. (5600,862) -- (4000,857) .. controls (3600,850) and (3400,760) .. (alane.east |- 0,687);
\draw[inherit] (rosnode.north -| 1713,0) -- (fc.south -| 1591,0);
\draw[inherit] (rosnode.north -| 1768,0) -- (baseapp.south -| 1768,0);
\draw[privinherit] (snm.north -| 378,0) -- (anm.south -| 156,0);

% into the test planner
\draw[uses] (dl205.south -| 5380,0) .. controls (5390,2980) and (5480,3180) .. (tlc.west |- 0,3241);
\draw[uses] (blcp.south -| 5270,0) .. controls +(20,100) and +(-100,-60) .. (tlc.west |- 0,3298);
\draw[uses] (blfp.east |- 0,2970) -- (tlc.west |- 0,3313);
\draw[uses] (vms.south -| 5642,0) .. controls (5620,1500) and (5625,2700) .. (tlc.north -| 5651,0);
\draw[uses] (lrm.south -| 5740,0) .. controls (5660,1500) and (5650,2000) .. (tlc.north -| 5662,0);
\draw[uses] (tm.south -| 6088,0) .. controls (6040,1400) and (5780,2500) .. (tlc.north -| 5687,0);
\draw[uses] (xreader.south -| 5819,0) -- (tlc.north -| 5747,0);
\draw[uses] (envf.south -| 5986,0) .. controls +(-60,80) and +(60,-40) .. (tlc.east |- 0,3243);
\draw[uses] (wwriter.south -| 6316,0) .. controls +(-120,150) and +(150,-30) .. (tlc.east |- 0,3298);
\draw[uses] (parf.south -| 6534,0) .. controls +(-150,150) and +(250,-30) .. (tlc.east |- 0,3316);
\draw[uses] (lfv.south -| 6703,0) .. controls (6790,2900) and (6650,3180) .. (tlc.east |- 0,3322);
\draw[uses] (lcv.south -| 6853,0) .. controls (6800,3200) and (6300,3260) .. (tlc.east |- 0,3328);
\draw[uses] (tlc.west |- 0,3343) -- (rosnode.east |- 0,3609);

% ROS scheduling
\draw[uses] (snm.south -| 439,0) .. controls (470,3180) and (1500,3150) .. (baseapp.north -| 1690,0);
\draw[uses] (snc.south -| 403,0) -- (snm.north -| 403,0);

% map and traffic
\draw[uses] (areader.south -| 5977,0) .. controls +(20,120) and +(0,-100) .. (tm.north -| 6063,0);
\draw[uses] (bs.south -| 6156,0) -- (tm.north -| 6133,0);
\draw[uses] (areader.south -| 5936,0) .. controls (5880,500) and (5830,800) .. (lrm.north -| 5819,0);
\draw[uses] (bs.south -| 6257,0) .. controls (6300,700) and (6100,980) .. (lrm.east |- 0,1059);
\draw[uses] (vms.south -| 5710,0) .. controls +(10,60) and +(0,-60) .. (lrm.north -| 5755,0);
\draw[uses] (tm.south -| 6173,0) .. controls (6230,900) and (6560,860) .. (elt.north -| 6588,0);
\draw[uses] (lfg.south -| 6869,0) -- (cs.north -| 6883,0);
\draw[uses] (lfg.south -| 6788,0) .. controls (6760,1300) and (6710,1500) .. (lfv.north -| 6702,0);
\draw[uses] (aplfv.south -| 6389,0) .. controls (6450,1400) and (6620,1600) .. (lfv.north -| 6638,0);
\draw[uses] (elt.south -| 6628,0) .. controls (6640,1400) and (6680,1600) .. (lfv.north -| 6681,0);
\draw[uses] (cs.south -| 6873,0) .. controls (6840,1400) and (6740,1600) .. (lfv.north -| 6731,0);
\draw[uses] (lrm.south -| 5806,0) .. controls (5840,1520) and (5900,1525) .. (6000,1530) .. controls (6200,1580) and (6400,1700) .. (lfv.west |- 0,1791);
\draw[uses] (lrm.south -| 5710,0) .. controls (5700,2000) and (5800,2250) .. (6200,2500) .. controls (6500,2650) and (6750,2760) .. (lcv.west |- 0,2828);
\draw[uses] (lfv.south -| 6728,0) .. controls (6790,2200) and (6800,2600) .. (lcv.north -| 6832,0);
\draw[uses] (elt.south -| 6652,0) .. controls (6700,1280) and (6880,1250) .. (6885,1600) .. controls (6890,2200) and (6925,2600) .. (lcv.north -| 6925,0);
\draw[uses] (cs.south -| 6929,0) -- (lcv.north -| 6940,0);

% edge labels
\node[lbl] (l01) at (2040,883) {-ptac\_};
\node[lbl] (l02) at (2133,883) {-lane\_};
\node[lbl] (l03) at (2240,883) {-pveh\_};
\node[lbl] (l04) at (2300,883) {-ptac\_};
\node[lbl] (l05) at (2370,883) {-lfv\_};
\node[lbl] (l06) at (2460,883) {-pv\_};
\node[lbl] (l07) at (2507,883) {-ptac\_};
\node[lbl] (l08) at (2593,883) {-lfv\_};
\node[lbl] (l09) at (2635,883) {-p\_};
\node[lbl] (l10) at (2735,883) {-lfv\_};
\node[lbl] (l11) at (2779,883) {-lfv\_};
\node[lbl] (l12) at (2825,883) {-lfv\_};
\node[lbl] (l13) at (2892,883) {-ptac\_};
\node[lbl] (l14) at (3053,883) {-pvehicle\_};
\node[lbl] (l15) at (3127,883) {-lfv\_};
\node[lbl] (l16) at (3324,883) {-pveh\_};
\node[lbl] (l17) at (3405,883) {-ptac\_};
\node[lbl] (l18) at (3454,883) {-lfv\_};
\node[lbl] (l19) at (3527,883) {-lfv\_};
\node[lbl] (l20) at (3699,883) {-lane\_};
\node[lbl] (l21) at (3764,883) {-pv\_};
\node[lbl] (l22) at (3886,883) {-lfv\_};
\node[lbl] (l23) at (3936,883) {-pveh\_};
\node[lbl] (l24) at (4085,883) {-lfv\_};
\node[lbl] (l25) at (4136,883) {-p\_veh\_};
\node[lbl] (l26) at (4267,883) {-pvehicle\_};
\node[lbl] (l27) at (4456,883) {-pveh\_};
\node[lbl] (l28) at (5246,883) {-pvehicle\_};
\node[lbl] (l29) at (5583,883) {-apVehicle\_};
\node[lbl] (l30) at (5786,883) {-egoState\_};
\node[lbl] (l31) at (6498,883) {-trafficMap\_};
\node[lbl] (l32) at (6893,883) {-lfg\_};
\node[lbl] (l33) at (3079,1085) {-lfv\_};
\node[lbl] (l34) at (4879,1085) {-apvehicle\_};
\node[lbl] (l35) at (6797,1085) {-lfg\_};
\node[lbl] (l36) at (2918,1392) {-lfvSpeedLimit\_};
\node[lbl] (l37) at (5894,1392) {-lrm\_};
\node[lbl] (l38) at (6568,1392) {-apLFV\_};
\node[lbl] (l39) at (6677,1392) {-elt\_};
\node[lbl] (l40) at (6880,1392) {-cs\_};
\node[lbl] (l41) at (6082,420) {-tpsetReader\_};
\node[lbl] (l42) at (6192,420) {-borderSet\_};
\node[lbl] (l43) at (5933,652) {-vehicleReader\_};
\node[lbl] (l44) at (6328,652) {-borderSet\_};
\node[lbl] (l45) at (653,1845) {-pTacticalPlanner\_};
\node[lbl] (l46) at (1587,1845) {-followPrecedingVehicle\_};
\node[lbl] (l47) at (1790,1845) {-stopAtBottleneckLFV\_};
\node[lbl] (l48) at (1990,1845) {-keepDistanceToLaneEnd\_};
\node[lbl] (l49) at (2244,1845) {-lateralAccelerationReference\_};
\node[lbl] (l50) at (2493,1845) {-laneWidthSpeedLimitLFV\_};
\node[lbl] (l51) at (2682,1845) {-lfvSpeedLimit\_};
\node[lbl] (l52) at (3140,1845) {-lateralAccelerationConstraint\\LB\_\\-lateralAccelerationConstraintUB\_};
\node[lbl] (l53) at (3348,1845) {-stopAtCheckPoint\_\\-stopAtRedLight\_};
\node[lbl] (l54) at (3503,1845) {-lateralJerkReference\_};
\node[lbl] (l55) at (3731,1845) {-lateralOffsetConstraint\\LFLB\_\\-lateralOffsetConstraint\\LFUB\_};
\node[lbl] (l56) at (3959,1845) {-lowerBoundSGapToPreceding\\Vehicle\_};
\node[lbl] (l57) at (4456,1845) {-followCenterlineReference\_};
\node[lbl] (l58) at (4644,1845) {-breakAtHorizon\_};
\node[lbl] (l59) at (4834,1845) {-stopAtNextGoalPoint\_};
\node[lbl] (l60) at (5382,1845) {-stopAtNextConflictPoint\_};
\node[lbl] (l61) at (5574,1845) {-pvehicle\_};
\node[lbl] (l62) at (5634,1845) {-x\_};
\node[lbl] (l63) at (5842,1845) {-lrm\_};
\node[lbl] (l64) at (6010,1845) {-trafficMap\_};
\node[lbl] (l65) at (6909,1845) {-elt\_};
\node[lbl] (l66) at (6949,1845) {-cs\_};
\node[lbl] (l67) at (967,2482) {-curvatureSpeedLimit\_};
\node[lbl] (l68) at (1187,2482) {-dontDriveBackwards\_};
\node[lbl] (l69) at (1449,2482) {-longitudinalAcceleration\\ConstraintLB\_\\-longitudinalAccelerationConstraintUB\_};
\node[lbl] (l70) at (2907,2482) {-nominalReferenceSpeed\_};
\node[lbl] (l71) at (4236,2482) {-headingConstraintLB\\\_\\-headingConstraintUB\_};
\node[lbl] (l72) at (487,2481) {-m\_schedulerNotification\\Conversion};
\node[lbl] (l73) at (5693,2483) {-roadmap\_};
\node[lbl] (l74) at (6827,2481) {-lfv\_};
\node[lbl] (l75) at (5490,2950) {-active\_planner\_};
\node[lbl] (l76) at (6774,2950) {-lfv\_};
\node[lbl] (l77) at (4445,3137) {-lfplanner\_};
\node[lbl] (l78) at (5351,3137) {-lcplanner\_l\_\\-lcplanner\_r\_};
\node[lbl] (l79) at (5800,3137) {-xreader\_};
\node[lbl] (l80) at (5985,3137) {-envFactory\_\\-funFactory\_};
\node[lbl] (l81) at (6229,3137) {-wwriter\_};
\node[lbl] (l82) at (6511,3137) {-paramsFactory\_};
\node[lbl] (l83) at (6839,3137) {-lcvl\_\\-lcvr\_};
\node[lbl] (l84) at (550,3137) {-snm\_};
\node[lbl] (l85) at (3158,3520) {-lc\_};
\end{tikzpicture}
\end{document}
